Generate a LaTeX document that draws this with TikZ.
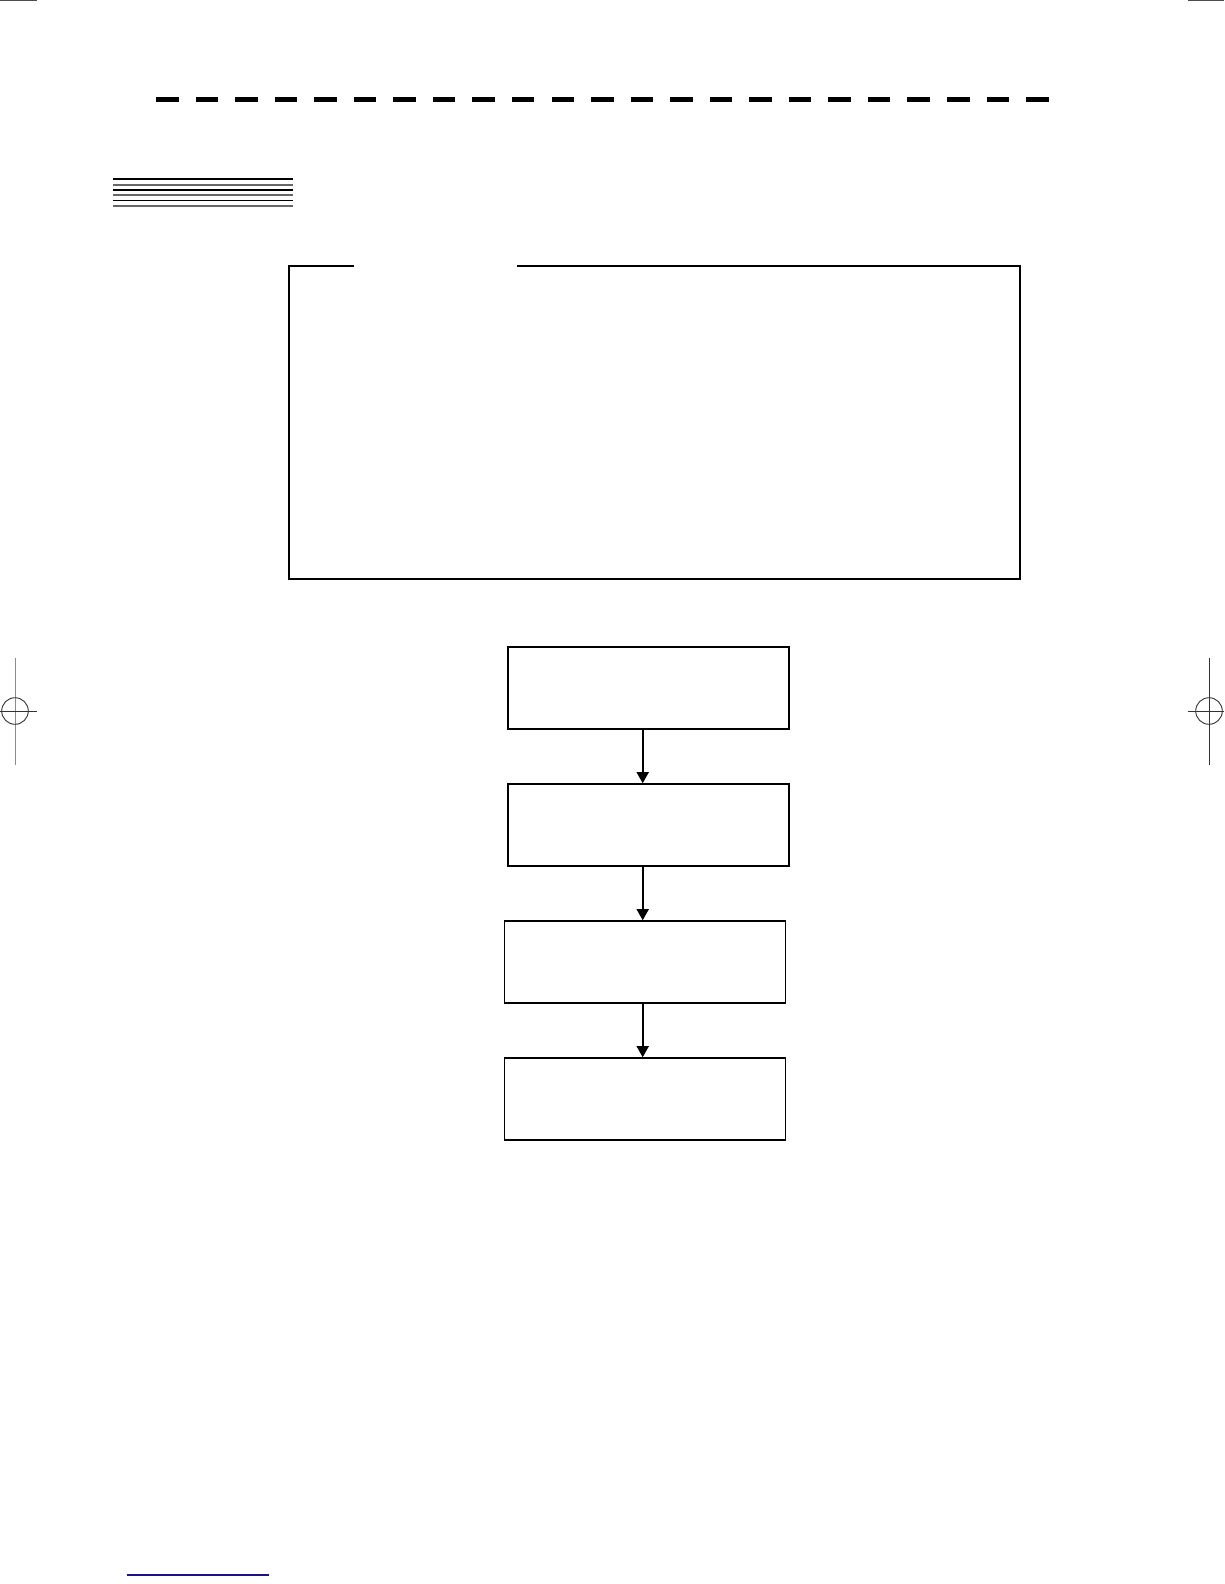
\documentclass[tikz,border=0pt]{standalone}
\usetikzlibrary{arrows.meta}
\definecolor{navy}{RGB}{20,20,140}
\begin{document}
\begin{tikzpicture}[x=1pt,y=-1pt,
  flowbox/.style={draw=black,line width=1.6pt,minimum width=281pt,minimum height=82pt,inner sep=0pt},
  flowarrow/.style={line width=1.6pt,-{Triangle[width=12pt,length=11pt]}},
  regline/.style={line width=0.9pt},
  stripeblack/.style={line width=1.1pt,black},
  stripegray/.style={line width=1.7pt,black!60}]
\useasboundingbox (0,0) rectangle (1224,1584);
% corner trims
\draw[regline,black!70] (0,0.5) -- (37,0.5);
\draw[regline,black!70] (1188,0.5) -- (1224,0.5);
% dashed header rule
\draw[line width=5pt,dash pattern=on 22.5pt off 17.05pt] (156,99.8) -- (1048.5,99.8);
% striped block
\foreach \yy in {179,190,200.7} \draw[stripeblack] (113,\yy) -- (293,\yy);
\foreach \yy in {184.7,195.3,206.3} \draw[stripegray] (113,\yy) -- (293,\yy);
% big frame with gap in top edge
\draw[line width=1.6pt] (517,266) -- (1020,266) -- (1020,579) -- (289,579) -- (289,266) -- (354,266);
% registration marks
\draw[regline,black!45] (15,658) -- (15,765);
\draw[regline,black!80] (15,711) circle (13.3);
\draw[regline,black!80] (0,711) -- (37,711);
\draw[regline,black!80] (1209,658) -- (1209,765);
\draw[regline,black!80] (1209,711) circle (13.3);
\draw[regline,black!80] (1188,711) -- (1224,711);
% flow boxes
\node[flowbox] (b1) at (648.5,688) {};
\node[flowbox] (b2) at (648.5,825) {};
\node[flowbox] (b3) at (645,962) {};
\node[flowbox] (b4) at (645,1099) {};
\coordinate (ax) at (642.7,0);
\draw[flowarrow] (b1.south -| ax) -- (b2.north -| ax);
\draw[flowarrow] (b2.south -| ax) -- (b3.north -| ax);
\draw[flowarrow] (b3.south -| ax) -- (b4.north -| ax);
% bottom blue rule
\draw[line width=1.3pt,navy] (126.7,1575) -- (269,1575);
\end{tikzpicture}
\end{document}
